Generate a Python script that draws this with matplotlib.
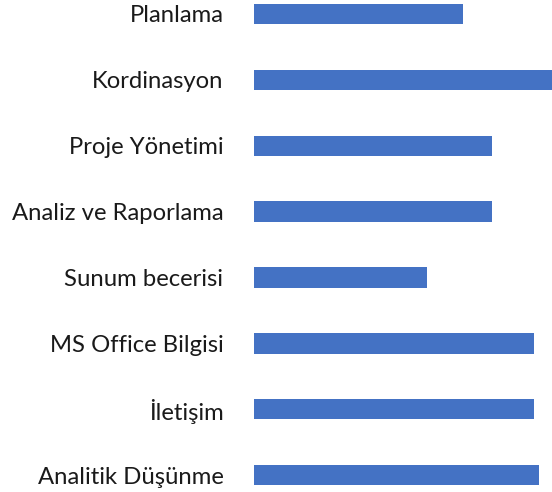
import matplotlib
matplotlib.use("Agg")
import matplotlib.pyplot as plt

skills = ["Planlama", "Kordinasyon", "Proje Yönetimi", "Analiz ve Raporlama",
          "Sunum becerisi", "MS Office Bilgisi", "İletişim", "Analitik Düşünme"]
levels = [70, 100, 80, 80, 58, 94, 94, 95.5]

plt.rcParams['font.family'] = ['Lato', 'DejaVu Sans']

fig = plt.figure(figsize=(5.52, 4.92), dpi=100)
ax = fig.add_axes([254 / 552, 0, 298 / 552, 1])

pos = list(range(len(skills)))
ax.barh(pos, levels, height=0.31, color="#4472C4")
ax.set_xlim(0, 100)
ax.set_ylim(7.257, -0.2125)

ax.set_yticks(pos)
ax.set_yticklabels(skills, fontsize=17.2, color="#1a1a1a")
ax.tick_params(axis="y", length=0, pad=22)
ax.set_xticks([])
for s in ax.spines.values():
    s.set_visible(False)

fig.savefig("out.png", dpi=100)
